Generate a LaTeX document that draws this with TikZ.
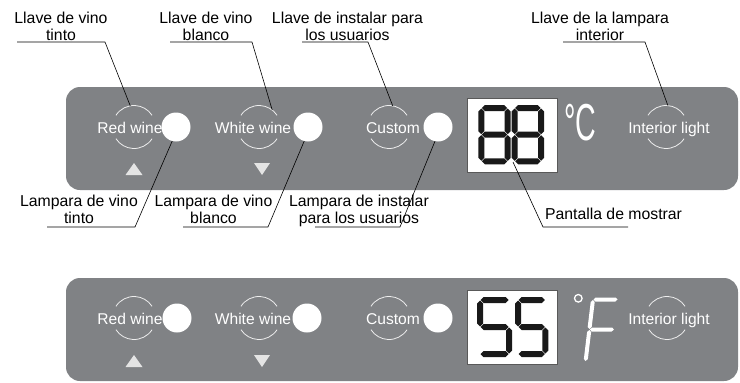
\documentclass[tikz,border=0pt]{standalone}
\usepackage{fontspec}
\setmainfont{Liberation Sans}
\usepackage{tikz}
\usetikzlibrary{calc}
\definecolor{panelgray}{RGB}{128,130,133}
\definecolor{ringwhite}{RGB}{238,238,238}
\definecolor{trigray}{RGB}{228,228,228}
\definecolor{segblack}{RGB}{25,25,25}

\newcommand{\seghalf}{3}
\newcommand{\seggap}{0.5}
\newcommand{\hseg}[3]{\fill (#1+\seggap,#3) -- (#1+\seggap+\seghalf,#3-\seghalf) -- (#2-\seggap-\seghalf,#3-\seghalf) -- (#2-\seggap,#3) -- (#2-\seggap-\seghalf,#3+\seghalf) -- (#1+\seggap+\seghalf,#3+\seghalf) -- cycle;}
\newcommand{\vseg}[3]{\fill (#1,#2+\seggap) -- (#1+\seghalf,#2+\seggap+\seghalf) -- (#1+\seghalf,#3-\seggap-\seghalf) -- (#1,#3-\seggap) -- (#1-\seghalf,#3-\seggap-\seghalf) -- (#1-\seghalf,#2+\seggap+\seghalf) -- cycle;}
% digits: width, height
\newcommand{\digiteight}[2]{\hseg{0}{#1}{0}\hseg{0}{#1}{#2/2}\hseg{0}{#1}{#2}%
  \vseg{0}{0}{#2/2}\vseg{0}{#2/2}{#2}\vseg{#1}{0}{#2/2}\vseg{#1}{#2/2}{#2}}
\newcommand{\digitfive}[2]{\hseg{0}{#1}{0}\hseg{0}{#1}{#2/2}\hseg{0}{#1}{#2}%
  \vseg{0}{0}{#2/2}\vseg{#1}{#2/2}{#2}}
\newcommand{\keyarcs}[1]{%
  \draw[keyarc] ([shift={(33:21.5)}]#1.center) arc[start angle=33, end angle=147, radius=21.5];
  \draw[keyarc] ([shift={(213:21.5)}]#1.center) arc[start angle=213, end angle=327, radius=21.5];}

\begin{document}
\begin{tikzpicture}[x=1pt, y=-1pt,
    lbl/.style={inner sep=0pt, align=center, anchor=north, font=\fontsize{15.8}{16.6}\selectfont},
    keytext/.style={inner sep=0pt, anchor=base, text=white, font=\fontsize{15.6}{16.6}\selectfont},
    keyring/.style={circle, inner sep=0pt, outer sep=0pt, minimum size=43pt},
    keyarc/.style={ringwhite, line width=0.8pt},
    lamp/.style={circle, fill=white, inner sep=0pt, outer sep=0pt, minimum size=29pt},
    leader/.style={line width=0.6pt},
    dispbox/.style={draw=black!65, fill=white, line width=0.6pt, inner sep=0pt, minimum width=90pt, minimum height=74pt}]
  \useasboundingbox (0,0) rectangle (740,383);

  % upper panel
  \fill[panelgray, rounded corners=14pt] (66,87) rectangle (738,190);
  \node[keyring] (redring) at (134,127) {};
  \keyarcs{redring}
  \node[keytext] (redkey) at (130,133) {Red wine};
  \node[lamp] (redlamp) at (176,127) {};
  \fill[trigray] (134,163) -- (142.5,175) -- (125.5,175) -- cycle;

  \node[keyring] (whitering) at (259,127) {};
  \keyarcs{whitering}
  \node[keytext] (whitekey) at (253,133) {White wine};
  \node[lamp] (whitelamp) at (308,127) {};
  \fill[trigray] (254,163) -- (270,163) -- (262,175) -- cycle;

  \node[keyring] (customring) at (389,127) {};
  \keyarcs{customring}
  \node[keytext] (customkey) at (393,133) {Custom};
  \node[lamp] (customlamp) at (438,127) {};

  \node[dispbox] (disp) at (512,135) {};
  \begin{scope}[shift={(481.3,108)}, fill=segblack]
    \digiteight{26.4}{53.3}
  \end{scope}
  \begin{scope}[shift={(514.7,108)}, fill=segblack]
    \digiteight{26.4}{53.3}
  \end{scope}
  \coordinate (dispmark) at (513,162);
  \node[text=white, font=\fontsize{52}{52}\selectfont, xscale=0.55, inner sep=0pt, anchor=base west] (unitC) at (564,140) {°C};

  \node[keyring] (interiorring) at (666,127) {};
  \keyarcs{interiorring}
  \node[keytext] (interiorkey) at (669,133) {Interior light};

  % labels above
  \node[lbl] (lbltinto) at (61,12) {Llave de vino\\tinto};
  \node[lbl] (lblblanco) at (206,12) {Llave de vino\\blanco};
  \node[lbl] (lblcustom) at (347.5,12) {Llave de instalar para\\los usuarios};
  \node[lbl] (lblinterior) at (600,12) {Llave de la lampara\\interior};
  \coordinate (utinto) at (17,42);
  \coordinate (ublanco) at (170,42);
  \coordinate (ucustom) at (302,42);
  \coordinate (uinterior) at (563,42);
  \draw[leader] (utinto) -- ++(88,0) -- (redring.100);
  \draw[leader] (ublanco) -- ++(82,0) -- (whitering.52);
  \draw[leader] (ucustom) -- ++(66,0) -- (customring.80);
  \draw[leader] (uinterior) -- ++(82,0) -- (interiorring.85);

  % labels below
  \node[lbl] (lamptinto) at (79,195) {Lampara de vino\\tinto};
  \node[lbl] (lampblanco) at (213.5,195) {Lampara de vino\\blanco};
  \node[lbl] (lampcustom) at (359,195) {Lampara de instalar\\para los usuarios};
  \node[lbl] (lblpantalla) at (613.5,208) {Pantalla de mostrar};
  \coordinate (vtinto) at (47,227);
  \coordinate (vblanco) at (183,227);
  \coordinate (vcustom) at (315,227);
  \coordinate (vpantalla) at (628,227);
  \draw[leader] (vtinto) -- ++(88,0) -- (redlamp.255);
  \draw[leader] (vblanco) -- ++(85,0) -- (whitelamp.255);
  \draw[leader] (vcustom) -- ++(85,0) -- (customlamp.258);
  \draw[leader] (vpantalla) -- ++(-85,0) -- (dispmark);

  % lower panel
  \begin{scope}[shift={(0,191)}]
    \fill[panelgray, rounded corners=14pt] (66,87) rectangle (738,190);
    \node[keyring] (redringB) at (134,127) {};
    \keyarcs{redringB}
    \node[keytext] (redkeyB) at (130,133) {Red wine};
    \node[lamp] (redlampB) at (177,127) {};
    \fill[trigray] (134,164) -- (142.5,176) -- (125.5,176) -- cycle;

    \node[keyring] (whiteringB) at (259,127) {};
    \keyarcs{whiteringB}
    \node[keytext] (whitekeyB) at (253,133) {White wine};
    \node[lamp] (whitelampB) at (307,127) {};
    \fill[trigray] (254,164) -- (270,164) -- (262,176) -- cycle;

    \node[keyring] (customringB) at (389,127) {};
    \keyarcs{customringB}
    \node[keytext] (customkeyB) at (393,133) {Custom};
    \node[lamp] (customlampB) at (438,127) {};

    \node[dispbox] (dispB) at (512,136.5) {};
    \begin{scope}[shift={(480,109)}, fill=segblack]
      \digitfive{29}{54}
    \end{scope}
    \begin{scope}[shift={(518,109)}, fill=segblack]
      \digitfive{27.3}{54}
    \end{scope}
    \draw[white, line width=1.3pt] (578.3,107.3) circle[radius=3.8];
    \begin{scope}[shift={(593,108.5)}, xslant=0.12, fill=white]
      \renewcommand{\seghalf}{2}
      \hseg{0}{25}{0}
      \hseg{0}{25}{30}
      \vseg{0}{0}{30}
      \vseg{0}{30}{62}
    \end{scope}

    \node[keyring] (interiorringB) at (667,127) {};
    \keyarcs{interiorringB}
    \node[keytext] (interiorkeyB) at (669,133) {Interior light};
  \end{scope}
\end{tikzpicture}
\end{document}
